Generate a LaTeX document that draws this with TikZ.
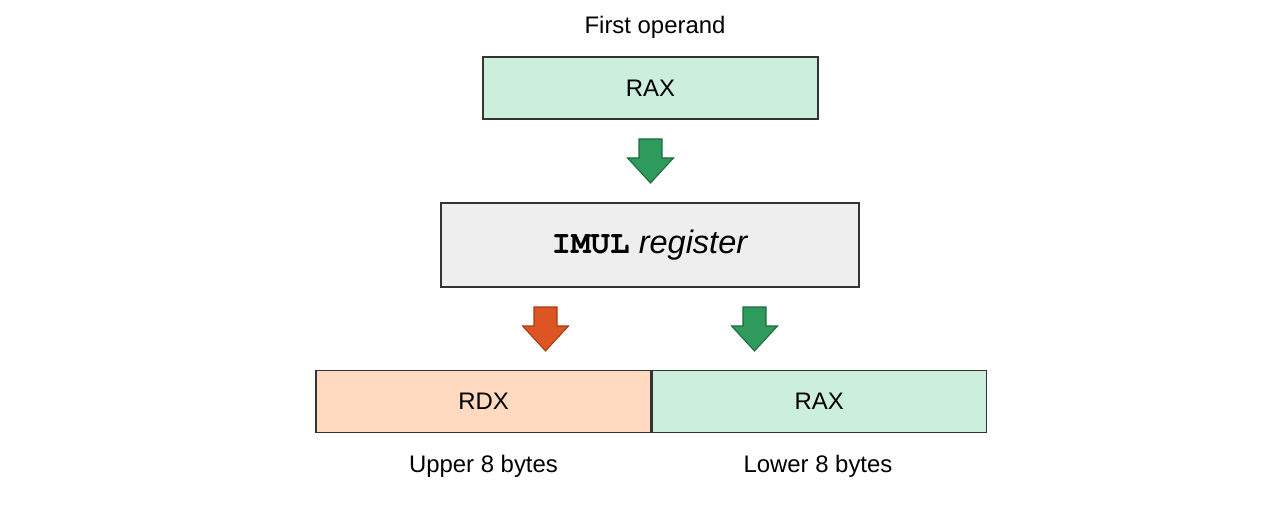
\documentclass[tikz,border=0pt]{standalone}
\usepackage{fontspec}
\setmainfont{Liberation Sans}
\newfontfamily\codefont{TeX Gyre Cursor}
\usetikzlibrary{positioning}

\definecolor{regGreen}{HTML}{CCEEDC}
\definecolor{regOrange}{HTML}{FFDAC1}
\definecolor{opGray}{HTML}{EEEEEE}
\definecolor{arrGreen}{HTML}{2E9A5C}
\definecolor{arrGreenD}{HTML}{1D6B3D}
\definecolor{arrOrange}{HTML}{DD5522}
\definecolor{arrOrangeD}{HTML}{A33F12}

\tikzset{
  reg/.style={draw=black!80,line width=0.7pt,minimum height=12.4mm,inner sep=0pt,
    font=\fontsize{13.6}{16}\selectfont},
  lbl/.style={font=\fontsize{13.6}{16}\selectfont,inner sep=0pt},
  pics/downarrow/.style={code={
    \draw[line width=0.6pt,#1] (-11.5,0) -- (11.5,0) -- (11.5,19) -- (23,19)
      -- (0,44) -- (-23,19) -- (-11.5,19) -- cycle;}}
}

\begin{document}
\begin{tikzpicture}[x=0.2mm,y=-0.2mm]
\useasboundingbox (0,0) rectangle (1285,519);
% first operand
\node[lbl] (opname) at (655,27) {First operand};
\node[reg,fill=regGreen,minimum width=67mm] (raxin) at (650.5,88) {RAX};
\pic at (650.5,139) {downarrow={fill=arrGreen,draw=arrGreenD}};
% instruction
\node[reg,fill=opGray,minimum width=83.6mm,minimum height=16.8mm,
  font=\fontsize{18.5}{22}\selectfont] (imul) at (650,245)
  {{\codefont\bfseries IMUL} \textit{register}};
\pic at (545.5,307) {downarrow={fill=arrOrange,draw=arrOrangeD}};
\pic at (754.5,307) {downarrow={fill=arrGreen,draw=arrGreenD}};
% result
\node[reg,fill=regOrange,minimum width=67mm] (rdx) at (483.5,401.5) {RDX};
\node[reg,fill=regGreen,minimum width=66.8mm,right=0pt of rdx] (raxout) {RAX};
\node[lbl] (upper) at (483.5,466) {Upper 8 bytes};
\node[lbl] (lower) at (818,466) {Lower 8 bytes};
\end{tikzpicture}
\end{document}
